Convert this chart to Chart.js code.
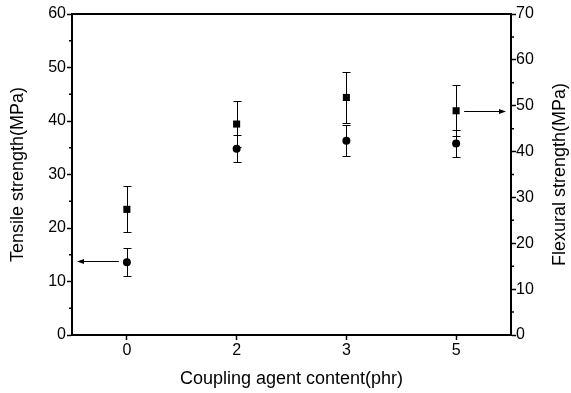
<!DOCTYPE html>
<html>
<head>
<meta charset="utf-8">
<script src="https://cdn.jsdelivr.net/npm/chart.js@4.4.0/dist/chart.umd.min.js"></script>
<style>
  html, body { margin: 0; padding: 0; background: #fff; }
  #wrap { width: 571px; height: 393px; }
</style>
</head>
<body>
<div id="wrap"><canvas id="chart" width="571" height="393"></canvas></div>
<script>
const categories = ["0", "2", "3", "5"];
const tensileValues = [13.6, 34.8, 36.3, 35.8];
const tensileErrors = [2.6, 2.5, 2.9, 2.6];
const flexuralValues = [27.4, 46.0, 51.8, 48.9];
const flexuralErrors = [5.0, 5.1, 5.6, 5.6];
const leftMinorTicks = [5, 15, 25, 35, 45, 55];
const rightMinorTicks = [5, 15, 25, 35, 45, 55, 65];
const rightTitle = "Flexural strength(MPa)";

const FONT = "'Liberation Sans', Arial, sans-serif";

// error bars, minor ticks, top frame line, right title and the two pointer arrows
const extrasPlugin = {
  id: "extras",
  afterDatasetsDraw(chart) {
    const ctx = chart.ctx;
    const area = chart.chartArea;
    const xs = chart.scales.x;
    const yl = chart.scales.y;
    const yr = chart.scales.y2;

    ctx.save();
    ctx.strokeStyle = "#000";
    ctx.fillStyle = "#000";
    ctx.lineWidth = 1;

    const bars = [
      { values: tensileValues, errors: tensileErrors, scale: yl },
      { values: flexuralValues, errors: flexuralErrors, scale: yr },
    ];
    bars.forEach((b) => {
      b.values.forEach((v, i) => {
        const x = Math.round(xs.getPixelForValue(i)) + 0.5;
        const top = Math.round(b.scale.getPixelForValue(v + b.errors[i])) + 0.5;
        const bot = Math.round(b.scale.getPixelForValue(v - b.errors[i])) + 0.5;
        ctx.beginPath();
        ctx.moveTo(x, top);
        ctx.lineTo(x, bot);
        ctx.moveTo(x - 4, top);
        ctx.lineTo(x + 4, top);
        ctx.moveTo(x - 4, bot);
        ctx.lineTo(x + 4, bot);
        ctx.stroke();
      });
    });

    // minor ticks
    ctx.lineWidth = 1.5;
    ctx.beginPath();
    leftMinorTicks.forEach((v) => {
      const y = yl.getPixelForValue(v);
      ctx.moveTo(area.left - 3, y);
      ctx.lineTo(area.left, y);
    });
    rightMinorTicks.forEach((v) => {
      const y = yr.getPixelForValue(v);
      ctx.moveTo(area.right, y);
      ctx.lineTo(area.right + 3, y);
    });
    ctx.stroke();

    // top frame
    ctx.lineWidth = 2;
    ctx.beginPath();
    ctx.moveTo(area.left - 1, area.top);
    ctx.lineTo(area.right + 1, area.top);
    ctx.stroke();

    // arrows
    ctx.lineWidth = 1;
    const ly = Math.round(yl.getPixelForValue(tensileValues[0])) - 0.5;
    const lx0 = xs.getPixelForValue(0) - 8;
    const lx1 = area.left + 5;
    ctx.beginPath();
    ctx.moveTo(lx0, ly);
    ctx.lineTo(lx1 + 5, ly);
    ctx.stroke();
    ctx.beginPath();
    ctx.moveTo(lx1, ly);
    ctx.lineTo(lx1 + 7, ly - 2.5);
    ctx.lineTo(lx1 + 7, ly + 2.5);
    ctx.closePath();
    ctx.fill();

    const last = flexuralValues.length - 1;
    const ry = Math.round(yr.getPixelForValue(flexuralValues[last])) + 0.5;
    const rx0 = xs.getPixelForValue(last) + 8;
    const rx1 = area.right - 5;
    ctx.beginPath();
    ctx.moveTo(rx0, ry);
    ctx.lineTo(rx1 - 5, ry);
    ctx.stroke();
    ctx.beginPath();
    ctx.moveTo(rx1, ry);
    ctx.lineTo(rx1 - 7, ry - 2.5);
    ctx.lineTo(rx1 - 7, ry + 2.5);
    ctx.closePath();
    ctx.fill();

    // right axis title, reads bottom to top like the left one
    ctx.translate(yr.right - 11, (area.top + area.bottom) / 2);
    ctx.rotate(-Math.PI / 2);
    ctx.font = "18px " + FONT;
    ctx.textAlign = "center";
    ctx.textBaseline = "middle";
    ctx.fillText(rightTitle, 0, 0);

    ctx.restore();
  },
};

const axisGrid = {
  display: true,
  drawOnChartArea: false,
  drawTicks: true,
  tickLength: 5,
  tickColor: "#000",
  tickWidth: 1.5,
};

new Chart(document.getElementById("chart").getContext("2d"), {
  type: "line",
  data: {
    labels: categories,
    datasets: [
      {
        label: "Flexural strength",
        data: flexuralValues,
        yAxisID: "y2",
        showLine: false,
        pointStyle: "rect",
        pointRadius: 5,
        backgroundColor: "#000",
        borderColor: "#000",
        borderWidth: 0,
      },
      {
        label: "Tensile strength",
        data: tensileValues,
        yAxisID: "y",
        showLine: false,
        pointStyle: "circle",
        pointRadius: 4,
        backgroundColor: "#000",
        borderColor: "#000",
        borderWidth: 0,
      },
    ],
  },
  options: {
    responsive: false,
    animation: false,
    devicePixelRatio: 1,
    layout: { padding: { top: 14, left: 0, right: 0, bottom: 0 } },
    plugins: {
      legend: { display: false },
      tooltip: { enabled: false },
    },
    scales: {
      x: {
        type: "category",
        offset: true,
        grid: { ...axisGrid, offset: false },
        border: { color: "#000", width: 2 },
        ticks: { color: "#000", font: { family: FONT, size: 16 }, padding: 1 },
        title: {
          display: true,
          text: "Coupling agent content(phr)",
          color: "#000",
          font: { family: FONT, size: 18 },
          padding: { top: 0, bottom: 3 },
        },
        afterFit: (s) => { s.height = 58; },
      },
      y: {
        position: "left",
        min: 0,
        max: 60,
        grid: axisGrid,
        border: { color: "#000", width: 2 },
        ticks: { stepSize: 10, color: "#000", font: { family: FONT, size: 16 }, padding: 1 },
        title: {
          display: true,
          text: "Tensile strength(MPa)",
          color: "#000",
          font: { family: FONT, size: 18 },
          padding: { top: 7, bottom: 0 },
        },
        afterFit: (s) => { s.width = 72; },
      },
      y2: {
        position: "right",
        min: 0,
        max: 70,
        grid: axisGrid,
        border: { color: "#000", width: 2 },
        ticks: { stepSize: 10, color: "#000", font: { family: FONT, size: 16 }, padding: 0 },
        afterFit: (s) => { s.width = 60; },
      },
    },
  },
  plugins: [extrasPlugin],
});
</script>
</body>
</html>
